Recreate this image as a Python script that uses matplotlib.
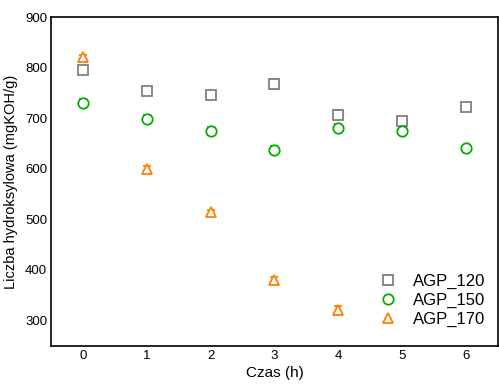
import matplotlib
matplotlib.use("Agg")
import matplotlib.pyplot as plt

plt.rcParams['font.family'] = ['Liberation Sans', 'DejaVu Sans']

# data
hours_120 = [0, 1, 2, 3, 4, 5, 6]
agp_120 = [795, 754, 746, 768, 707, 695, 722]
err_120 = [5, 7, 6, 9, 9, 4, 4]

hours_150 = [0, 1, 2, 3, 4, 5, 6]
agp_150 = [731, 699, 675, 638, 681, 674, 642]
err_150 = [7, 7, 8, 7, 7, 5, 4]

hours_170 = [0, 1, 2, 3, 4]
agp_170 = [821, 599, 514, 379, 320]
err_170 = [5, 7, 5, 6, 9]

fig, ax = plt.subplots(figsize=(4.99, 3.84), dpi=100)

ax.errorbar(hours_120, agp_120, yerr=err_120, fmt='s', color='#808080', mfc='white',
            ms=6.5, mew=1.3, capsize=3, elinewidth=0.8, capthick=0.8, label='AGP_120')
ax.errorbar(hours_150, agp_150, yerr=err_150, fmt='o', color='#00b000', mfc='white',
            ms=7.5, mew=1.3, capsize=3, elinewidth=0.8, capthick=0.8, label='AGP_150')
ax.errorbar(hours_170, agp_170, yerr=err_170, fmt='^', color='#ff8000', mfc='white',
            ms=7.5, mew=1.3, capsize=3, elinewidth=0.8, capthick=0.8, label='AGP_170')

ax.set_xlim(-0.5, 6.5)
ax.set_ylim(250, 900)
ax.set_xticks(range(7))
ax.set_yticks([300, 400, 500, 600, 700, 800, 900])
ax.tick_params(length=0, labelsize=9.5, pad=3)
ax.set_xlabel('Czas (h)', fontsize=11, labelpad=3)
ax.set_ylabel('Liczba hydroksylowa (mgKOH/g)', fontsize=10.5, labelpad=5)
for s in ax.spines.values():
    s.set_linewidth(1.2)

handles, labels = ax.get_legend_handles_labels()
handles = [h[0] for h in handles]
ax.legend(handles, labels, loc='lower right', frameon=False, fontsize=12,
          handletextpad=0.9, borderaxespad=0.3, handlelength=1.2,
          labelspacing=0.25, bbox_to_anchor=(1.0, 0.02))

fig.subplots_adjust(left=0.103, right=0.997, top=0.955, bottom=0.1)
fig.savefig('out.png', dpi=100)
